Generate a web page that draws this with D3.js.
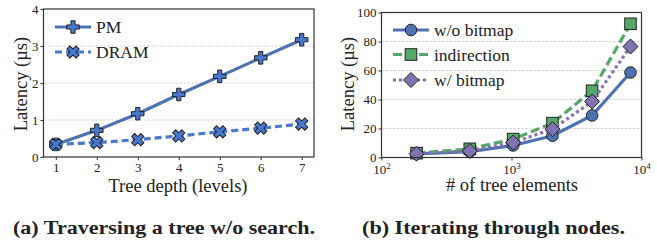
<!doctype html>
<html>
<head>
<meta charset="utf-8"/>
<title>Latency charts</title>
<script src="https://cdn.jsdelivr.net/npm/d3@7/dist/d3.min.js"></script>
<style>
  body { margin: 0; background: #fff; }
  svg { display: block; }
  text { font-family: "Times New Roman", "Liberation Serif", Tinos, Times, serif; fill: #222; }
  .caption { font-weight: bold; }
  .tick line { stroke: #333; }
  .domain { display: none; }
</style>
</head>
<body>
<div id="fig"></div>
<script>
// ---- data ----
var depth = [1, 2, 3, 4, 5, 6, 7];
var pmLatency = [0.34, 0.72, 1.17, 1.69, 2.18, 2.68, 3.17];
var dramLatency = [0.34, 0.39, 0.47, 0.57, 0.68, 0.78, 0.89];
var depthTicks = [1, 2, 3, 4, 5, 6, 7];
var leftYTicks = [0, 1, 2, 3, 4];

var treeElements = [186, 478, 1030, 2066, 4170, 8230];
var woBitmap = [2.5, 4.1, 8.3, 15, 29, 58.6];
var indirection = [3, 6, 12.7, 23.7, 46, 92.2];
var wBitmap = [2.6, 4.5, 10.3, 19.6, 38.6, 76.5];
var rightXTicks = [100, 1000, 10000];
var rightYTicks = [0, 20, 40, 60, 80, 100];

var captions = ["(a) Traversing a tree w/o search.", "(b) Iterating through nodes."];

var svg = d3.select("#fig").append("svg")
    .attr("width", 657)
    .attr("height", 246);

// marker shapes, centred on 0,0
function plusPath(s) {
  var a = s / 2, b = s / 6;
  return "M" + (-b) + "," + (-a) + "H" + b + "V" + (-b) + "H" + a + "V" + b + "H" + b + "V" + a +
         "H" + (-b) + "V" + b + "H" + (-a) + "V" + (-b) + "H" + (-b) + "Z";
}

function drawMarker(g, kind, x, y, fill) {
  var m;
  if (kind == "plus") {
    m = g.append("path").attr("d", plusPath(12.5)).attr("transform", "translate(" + x + "," + y + ")");
  } else if (kind == "x") {
    m = g.append("path").attr("d", plusPath(13)).attr("transform", "translate(" + x + "," + y + ") rotate(45)");
  } else if (kind == "circle") {
    m = g.append("circle").attr("cx", x).attr("cy", y).attr("r", 5.8);
  } else if (kind == "square") {
    m = g.append("rect").attr("x", x - 5.8).attr("y", y - 5.8).attr("width", 11.6).attr("height", 11.6);
  } else {
    m = g.append("path").attr("d", "M0,-7.5L7.5,0L0,7.5L-7.5,0Z").attr("transform", "translate(" + x + "," + y + ")");
  }
  m.attr("fill", fill).attr("stroke", "#222").attr("stroke-width", 1);
}

function frame(g, x0, x1, y0, y1) {
  g.append("rect")
    .attr("x", x0).attr("y", y0)
    .attr("width", x1 - x0).attr("height", y1 - y0)
    .attr("fill", "none").attr("stroke", "#333").attr("stroke-width", 1.2);
}

function grid(g, ticks, y, x0, x1) {
  g.selectAll(null).data(ticks).enter().append("line")
    .attr("x1", x0).attr("x2", x1)
    .attr("y1", function(d) { return y(d); })
    .attr("y2", function(d) { return y(d); })
    .attr("stroke", "#bbb").attr("stroke-width", 0.8)
    .attr("stroke-dasharray", "2,2");
}

function series(g, xs, ys, x, y, color, dash, kind, markFill) {
  var line = d3.line().x(function(d) { return x(d[0]); }).y(function(d) { return y(d[1]); });
  var pts = d3.zip(xs, ys);
  g.append("path").datum(pts).attr("d", line)
    .attr("fill", "none").attr("stroke", color).attr("stroke-width", 3.2)
    .attr("stroke-dasharray", dash);
  pts.forEach(function(p) { drawMarker(g, kind, x(p[0]), y(p[1]), markFill); });
}

function legendRow(g, x0, y0, color, dash, kind, markFill, label) {
  g.append("line").attr("x1", x0).attr("x2", x0 + 36).attr("y1", y0).attr("y2", y0)
    .attr("stroke", color).attr("stroke-width", 3.2).attr("stroke-dasharray", dash);
  drawMarker(g, kind, x0 + 18, y0, markFill);
  g.append("text").attr("x", x0 + 41).attr("y", y0 + 6).attr("font-size", 17.5).text(label);
}

function styleTicks(sel) {
  sel.attr("font-family", null);
  sel.selectAll("text").attr("font-size", 13).attr("fill", "#222");
}

//---------------- left chart ----------------
var L = svg.append("g");
var xL = d3.scaleLinear().domain([0.7, 7.3]).range([43.5, 314]);
var yL = d3.scaleLinear().domain([0, 4]).range([157, 9]);

grid(L, [1, 2, 3], yL, 43.5, 314);

L.append("g").attr("transform", "translate(43.5,0)")
  .call(d3.axisLeft(yL).tickValues(leftYTicks).tickFormat(d3.format("d")).tickSize(3).tickPadding(2))
  .call(styleTicks);
L.append("g").attr("transform", "translate(0,157)")
  .call(d3.axisBottom(xL).tickValues(depthTicks).tickFormat(d3.format("d")).tickSize(3).tickPadding(3))
  .call(styleTicks);

series(L, depth, pmLatency, xL, yL, "#4C72B0", null, "plus", "#4878CF");
series(L, depth, dramLatency, xL, yL, "#4878CF", "7,4", "x", "#4878CF");
frame(L, 43.5, 314, 9, 157);

legendRow(L, 55, 27, "#4C72B0", null, "plus", "#4878CF", "PM");
legendRow(L, 55, 52, "#4878CF", "7,4", "x", "#4878CF", "DRAM");

L.append("text").attr("x", 178).attr("y", 192).attr("text-anchor", "middle")
  .attr("font-size", 18.5).text("Tree depth (levels)");
L.append("text").attr("transform", "translate(27,84) rotate(-90)").attr("text-anchor", "middle")
  .attr("font-size", 18.5).text("Latency (µs)");

//---------------- right chart ----------------
var R = svg.append("g");
var xR = d3.scaleLog().domain([100, 10000]).range([381.5, 641.5]);
var yR = d3.scaleLinear().domain([0, 100]).range([157.5, 12.5]);

grid(R, [20, 40, 60, 80], yR, 381.5, 641.5);

R.append("g").attr("transform", "translate(381.5,0)")
  .call(d3.axisLeft(yR).tickValues(rightYTicks).tickFormat(d3.format("d")).tickSize(3).tickPadding(2))
  .call(styleTicks);
var xAx = R.append("g").attr("transform", "translate(0,157.5)")
  .call(d3.axisBottom(xR).tickValues(rightXTicks).tickSize(3).tickPadding(4))
  .call(styleTicks);
// 10^n labels with superscript
xAx.selectAll("text")
  .each(function(d) {
    var t = d3.select(this).text("");
    t.append("tspan").text("10");
    t.append("tspan").attr("dy", -5).attr("font-size", 9).text(Math.round(Math.log10(d)));
  });

series(R, treeElements, woBitmap, xR, yR, "#4C72B0", null, "circle", "#4C72B0");
series(R, treeElements, indirection, xR, yR, "#55A868", "9,4", "square", "#55A868");
series(R, treeElements, wBitmap, xR, yR, "#8172B2", "3,3", "diamond", "#8172B2");
frame(R, 381.5, 641.5, 12.5, 157.5);

legendRow(R, 393, 30, "#4C72B0", null, "circle", "#4C72B0", "w/o bitmap");
legendRow(R, 393, 54.5, "#55A868", "9,4", "square", "#55A868", "indirection");
legendRow(R, 393, 80, "#8172B2", "3,3", "diamond", "#8172B2", "w/ bitmap");

R.append("text").attr("x", 512).attr("y", 191).attr("text-anchor", "middle")
  .attr("font-size", 18.5).text("# of tree elements");
R.append("text").attr("transform", "translate(354,84) rotate(-90)").attr("text-anchor", "middle")
  .attr("font-size", 18.5).text("Latency (µs)");

//---------------- captions ----------------
svg.append("text").attr("class", "caption").attr("x", 13).attr("y", 234)
  .attr("font-size", 18).attr("textLength", 302).attr("lengthAdjust", "spacingAndGlyphs")
  .text(captions[0]);
svg.append("text").attr("class", "caption").attr("x", 362).attr("y", 234)
  .attr("font-size", 18).attr("textLength", 263).attr("lengthAdjust", "spacingAndGlyphs")
  .text(captions[1]);
</script>
</body>
</html>
